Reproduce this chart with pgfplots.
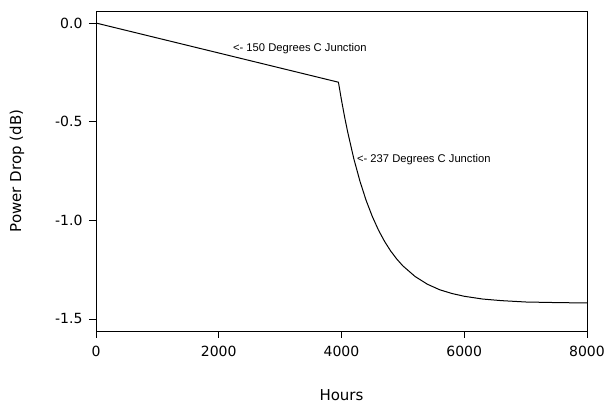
\documentclass[border=0pt]{standalone}
\usepackage{pgfplots}
\pgfplotsset{compat=1.18}
\usepackage{fontspec}
\setmainfont{DejaVu Sans}
\newfontfamily\notefont{Liberation Sans}

\begin{document}
\begin{tikzpicture}
\useasboundingbox (-96pt,-72pt) rectangle (512pt,331pt);
\begin{axis}[
  scale only axis,
  width=491pt, height=320pt,
  xmin=0, xmax=8000,
  ymin=-1.561, ymax=0.061,
  xtick={0,2000,4000,6000,8000},
  ytick={-1.5,-1,-0.5,0},
  tick align=outside,
  xtick pos=bottom, ytick pos=left,
  major tick length=7pt,
  axis line style={line width=0.9pt},
  tick style={line width=0.9pt, black},
  scaled x ticks=false,
  /pgf/number format/assume math mode=true,
  xticklabel style={/pgf/number format/set thousands separator={}, yshift=-5pt},
  yticklabel style={/pgf/number format/fixed, /pgf/number format/fixed zerofill, /pgf/number format/precision=1, xshift=-3pt},
  tick label style={font=\fontsize{14}{16}\selectfont},
  xlabel={Hours},
  ylabel={Power Drop (dB)},
  label style={font=\fontsize{15}{18}\selectfont},
  xlabel style={at={(axis description cs:0.5,-0.2)}, anchor=center},
  ylabel style={at={(axis description cs:-0.161,0.5)}, anchor=center},
]
% linear drift at 150 C, then exponential settling at 237 C
\addplot[black, line width=1pt] coordinates {
  (0,0) (3950,-0.300)
  (4000,-0.391) (4050,-0.475) (4100,-0.551) (4200,-0.687)
  (4300,-0.801) (4400,-0.898) (4500,-0.979) (4600,-1.048)
  (4700,-1.106) (4800,-1.155) (4900,-1.196) (5000,-1.231)
  (5200,-1.285) (5400,-1.324) (5600,-1.352) (5800,-1.371)
  (6000,-1.385) (6300,-1.399) (6600,-1.407) (7000,-1.414)
  (7500,-1.417) (8000,-1.419)
};
\node[anchor=west, inner sep=0pt, font=\notefont\fontsize{11.2}{13}\selectfont]
  at (axis cs:2231,-0.132) {<- 150 Degrees C Junction};
\node[anchor=west, inner sep=0pt, font=\notefont\fontsize{11.2}{13}\selectfont]
  at (axis cs:4251,-0.694) {<- 237 Degrees C Junction};
\end{axis}
\end{tikzpicture}
\end{document}
